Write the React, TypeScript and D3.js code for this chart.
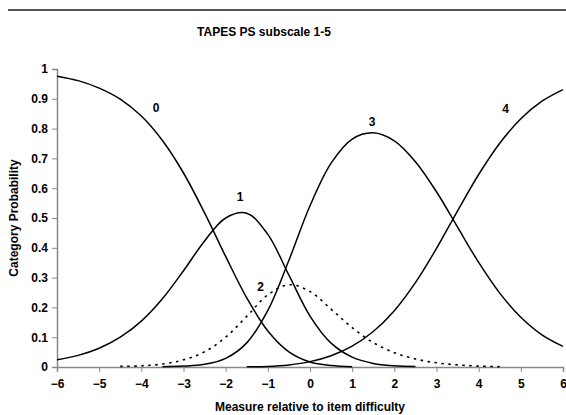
import React, { useEffect, useRef } from "react";
import * as d3 from "d3";

// Category probability curves at steps of 0.5 logits
const cat0X = [-6, -5.5, -5, -4.5, -4, -3.5, -3, -2.5, -2, -1.5, -1, -0.5, 0, 0.5, 1];
const cat0Y = [0.976, 0.961, 0.936, 0.899, 0.842, 0.76, 0.651, 0.517, 0.371, 0.232, 0.121, 0.051, 0.017, 0.005, 0.001];

const cat1X = [-6, -5.5, -5, -4.5, -4, -3.5, -3, -2.5, -2, -1.5, -1, -0.5, 0, 0.5, 1, 1.5, 2, 2.5];
const cat1Y = [0.024, 0.039, 0.063, 0.1, 0.154, 0.229, 0.323, 0.423, 0.5, 0.516, 0.445, 0.308, 0.171, 0.08, 0.033, 0.012, 0.004, 0.0015];

const cat2X = [-4.5, -4, -3.5, -3, -2.5, -2, -1.5, -1, -0.5, 0, 0.5, 1, 1.5, 2, 2.5, 3, 3.5, 4, 4.5];
const cat2Y = [0.002, 0.004, 0.01, 0.024, 0.051, 0.1, 0.17, 0.242, 0.276, 0.253, 0.194, 0.132, 0.082, 0.048, 0.027, 0.014, 0.007, 0.003, 0.001];

const cat3X = [-3.5, -3, -2.5, -2, -1.5, -1, -0.5, 0, 0.5, 1, 1.5, 2, 2.5, 3, 3.5, 4, 4.5, 5, 5.5, 6];
const cat3Y = [0.001, 0.003, 0.009, 0.029, 0.081, 0.19, 0.358, 0.541, 0.684, 0.765, 0.786, 0.759, 0.689, 0.588, 0.469, 0.351, 0.248, 0.167, 0.108, 0.069];

const cat4X = [-1.5, -1, -0.5, 0, 0.5, 1, 1.5, 2, 2.5, 3, 3.5, 4, 4.5, 5, 5.5, 6];
const cat4Y = [0.001, 0.002, 0.007, 0.018, 0.038, 0.07, 0.119, 0.189, 0.283, 0.398, 0.524, 0.646, 0.751, 0.833, 0.892, 0.931];

const categories = ["0", "1", "2", "3", "4"];
// where each category number sits, in measure / probability units
const labelX = [-3.65, -1.66, -1.17, 1.47, 4.64];
const labelY = [0.87, 0.57, 0.27, 0.823, 0.868];

const xTicks = [-6, -5, -4, -3, -2, -1, 0, 1, 2, 3, 4, 5, 6];
const yTicks = [0, 0.1, 0.2, 0.3, 0.4, 0.5, 0.6, 0.7, 0.8, 0.9, 1];

const seriesX = [cat0X, cat1X, cat2X, cat3X, cat4X];
const seriesY = [cat0Y, cat1Y, cat2Y, cat3Y, cat4Y];

const width = 566;
const height = 415;
const font = "Arial, 'Liberation Sans', sans-serif";

const ProbabilityChart = () => {
  const chartRef = useRef<SVGSVGElement>(null);

  useEffect(() => {
    const svg = d3.select(chartRef.current);
    svg.selectAll("*").remove();

    const margin = { top: 69, right: 3, bottom: 48, left: 57 };
    const innerWidth = width - margin.left - margin.right;
    const innerHeight = height - margin.top - margin.bottom;

    // rule across the top of the page
    svg.append("line")
      .attr("x1", 8).attr("x2", width)
      .attr("y1", 10).attr("y2", 10)
      .attr("stroke", "#555").attr("stroke-width", 2);

    svg.append("text")
      .attr("x", 264).attr("y", 36)
      .attr("text-anchor", "middle")
      .attr("font-family", font).attr("font-size", 12).attr("font-weight", "bold")
      .text("TAPES PS subscale 1-5");

    const g = svg.append("g").attr("transform", `translate(${margin.left},${margin.top})`);

    const xScale = d3.scaleLinear().domain([-6, 6]).range([0, innerWidth]);
    const yScale = d3.scaleLinear().domain([0, 1]).range([innerHeight, 0]);

    const yAxis = d3.axisLeft(yScale).tickValues(yTicks).tickSize(5).tickPadding(4)
      .tickFormat(d => d3.format("~g")(d as number));
    const xAxis = d3.axisBottom(xScale).tickValues(xTicks).tickSize(5).tickPadding(5)
      .tickFormat(d => d3.format("d")(d as number));

    const yG = g.append("g").call(yAxis);
    const xG = g.append("g").attr("transform", `translate(0,${innerHeight})`).call(xAxis);
    [yG, xG].forEach(ax => {
      ax.select(".domain").attr("stroke", "#888").attr("stroke-width", 1.5);
      ax.selectAll(".tick line").attr("stroke", "#888");
      ax.selectAll(".tick text")
        .attr("fill", "#000")
        .attr("font-family", font).attr("font-size", 12).attr("font-weight", "bold");
    });
    xG.selectAll(".tick text").attr("dy", "0.9em");

    const line = d3.line<[number, number]>()
      .x(d => xScale(d[0]))
      .y(d => yScale(d[1]))
      .curve(d3.curveCatmullRom.alpha(0.5));

    seriesX.forEach((xs, i) => {
      const pts = xs.map((x, j) => [x, seriesY[i][j]] as [number, number]);
      g.append("path")
        .datum(pts)
        .attr("fill", "none")
        .attr("stroke", "#000")
        .attr("stroke-width", i === 2 ? 1.6 : 1.5)
        .attr("stroke-dasharray", i === 2 ? "2.5,4.5" : null)
        .attr("d", line);
    });

    categories.forEach((c, i) => {
      g.append("text")
        .attr("x", xScale(labelX[i]))
        .attr("y", yScale(labelY[i]))
        .attr("dy", "0.35em")
        .attr("text-anchor", "middle")
        .attr("font-family", font).attr("font-size", 12).attr("font-weight", "bold")
        .text(c);
    });

    svg.append("text")
      .attr("transform", `translate(18,${margin.top + innerHeight / 2}) rotate(-90)`)
      .attr("text-anchor", "middle")
      .attr("font-family", font).attr("font-size", 12).attr("font-weight", "bold")
      .text("Category Probability");

    svg.append("text")
      .attr("x", margin.left + innerWidth / 2).attr("y", 411)
      .attr("text-anchor", "middle")
      .attr("font-family", font).attr("font-size", 12).attr("font-weight", "bold")
      .text("Measure relative to item difficulty");
  }, []);

  return (
    <svg
      ref={chartRef}
      width={width}
      height={height}
      style={{ position: "absolute", left: 0, top: 0, background: "#fff" }}
    />
  );
};

export default function App() {
  return <ProbabilityChart />;
}
